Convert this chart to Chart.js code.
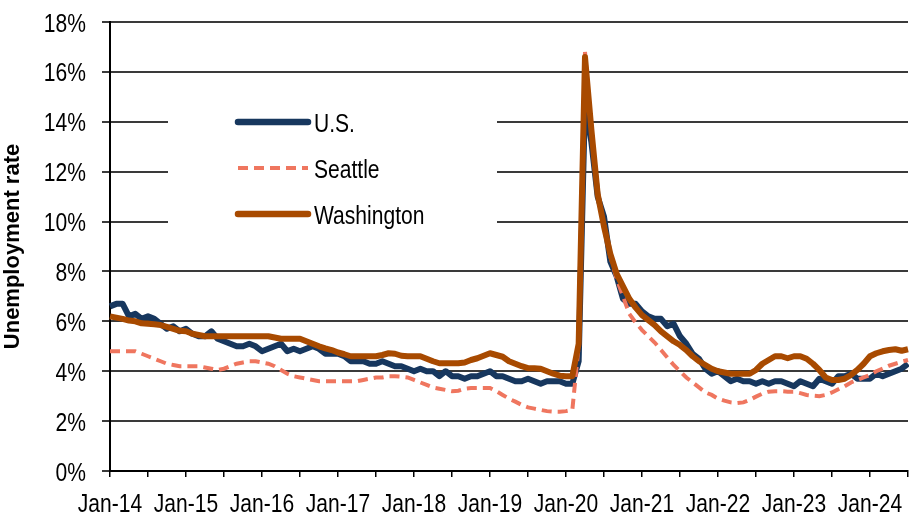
<!DOCTYPE html>
<html>
<head>
<meta charset="utf-8">
<script src="https://cdn.jsdelivr.net/npm/chart.js@4.4.1/dist/chart.umd.min.js"></script>
<style>
  html, body { margin: 0; padding: 0; background: #fff; }
  #wrap { width: 909px; height: 516px; }
</style>
</head>
<body>
<div id="wrap"><canvas id="chart" width="909" height="516"></canvas></div>
<script>
// monthly, Jan-14 .. Jul-24
var monthNames = ['Jan', 'Feb', 'Mar', 'Apr', 'May', 'Jun', 'Jul', 'Aug', 'Sep', 'Oct', 'Nov', 'Dec'];
var years = ['14', '15', '16', '17', '18', '19', '20', '21', '22', '23', '24'];

var usRate = [
  6.6, 6.7, 6.7, 6.2, 6.3, 6.1, 6.2, 6.1, 5.9, 5.7, 5.8, 5.6,
  5.7, 5.5, 5.4, 5.4, 5.6, 5.3, 5.2, 5.1, 5.0, 5.0, 5.1, 5.0,
  4.8, 4.9, 5.0, 5.1, 4.8, 4.9, 4.8, 4.9, 5.0, 4.9, 4.7, 4.7,
  4.7, 4.6, 4.4, 4.4, 4.4, 4.3, 4.3, 4.4, 4.3, 4.2, 4.2, 4.1,
  4.0, 4.1, 4.0, 4.0, 3.8, 4.0, 3.8, 3.8, 3.7, 3.8, 3.8, 3.9,
  4.0, 3.8, 3.8, 3.7, 3.6, 3.6, 3.7, 3.6, 3.5, 3.6, 3.6, 3.6,
  3.5, 3.5, 4.4, 14.8, 13.2, 11.0, 10.2, 8.4, 7.8, 6.9, 6.7, 6.7,
  6.4, 6.2, 6.1, 6.1, 5.8, 5.9, 5.4, 5.1, 4.7, 4.5, 4.1, 3.9,
  4.0, 3.8, 3.6, 3.7, 3.6, 3.6, 3.5, 3.6, 3.5, 3.6, 3.6, 3.5,
  3.4, 3.6, 3.5, 3.4, 3.7, 3.6, 3.5, 3.8, 3.8, 3.9, 3.7, 3.7,
  3.7, 3.9, 3.8, 3.9, 4.0, 4.1, 4.3
];

var seattleRate = [
  4.8, 4.8, 4.8, 4.8, 4.8, 4.7, 4.6, 4.5, 4.4, 4.3, 4.25, 4.2,
  4.2, 4.2, 4.2, 4.15, 4.1, 4.05, 4.1, 4.2, 4.3, 4.35, 4.4, 4.4,
  4.35, 4.3, 4.2, 4.05, 3.9, 3.8, 3.75, 3.7, 3.65, 3.6, 3.6, 3.6,
  3.6, 3.6, 3.6, 3.6, 3.65, 3.7, 3.75, 3.75, 3.8, 3.8, 3.78, 3.75,
  3.65, 3.55, 3.45, 3.35, 3.3, 3.25, 3.2, 3.22, 3.3, 3.33, 3.33, 3.33,
  3.33, 3.2, 3.05, 2.9, 2.78, 2.65, 2.55, 2.5, 2.45, 2.4, 2.38, 2.38,
  2.4, 2.45, 5.0, 16.8, 13.6, 11.2, 9.8, 8.6, 7.7, 7.0, 6.3, 5.95,
  5.65, 5.4, 5.15, 4.85, 4.55, 4.25, 4.0, 3.75, 3.55, 3.35, 3.15, 3.05,
  2.9, 2.82, 2.75, 2.72, 2.75, 2.85, 2.98, 3.1, 3.18, 3.2, 3.2, 3.18,
  3.18, 3.12, 3.05, 3.02, 3.0, 3.05, 3.15, 3.28, 3.4, 3.55, 3.65, 3.75,
  3.85, 4.0, 4.1, 4.22, 4.3, 4.38, 4.45
];

var washingtonRate = [
  6.2, 6.15, 6.1, 6.03, 6.0, 5.92, 5.9, 5.88, 5.85, 5.78, 5.7, 5.62,
  5.6, 5.5, 5.45, 5.4, 5.4, 5.4, 5.4, 5.4, 5.4, 5.4, 5.4, 5.4,
  5.4, 5.4, 5.35, 5.3, 5.3, 5.3, 5.3, 5.2, 5.1, 5.0, 4.92, 4.85,
  4.75, 4.68, 4.6, 4.6, 4.6, 4.6, 4.6, 4.65, 4.72, 4.7, 4.62, 4.6,
  4.6, 4.6, 4.5, 4.4, 4.32, 4.32, 4.32, 4.32, 4.35, 4.45, 4.52, 4.62,
  4.72, 4.65, 4.58, 4.4, 4.3, 4.2, 4.12, 4.12, 4.1, 4.0, 3.9, 3.82,
  3.8, 3.8, 5.1, 16.6, 13.7, 11.1, 9.8, 8.7, 7.9, 7.4, 6.9, 6.55,
  6.25, 6.05, 5.85, 5.6, 5.4, 5.2, 5.05, 4.85, 4.6, 4.4, 4.25, 4.1,
  4.0, 3.95, 3.9, 3.9, 3.9, 3.9, 4.05, 4.3, 4.45, 4.6, 4.6, 4.52,
  4.6, 4.6, 4.5, 4.3, 4.05, 3.75, 3.65, 3.65, 3.7, 3.85, 4.05, 4.3,
  4.6, 4.72, 4.8, 4.85, 4.88, 4.82, 4.88
];

var monthLabels = [];
for (var y = 0; y < years.length; y++) {
  for (var m = 0; m < 12; m++) {
    if (monthLabels.length < usRate.length) monthLabels.push(monthNames[m] + '-' + years[y]);
  }
}

var textFont = '26px "Liberation Sans", Arial, sans-serif';
var squeeze = 0.81; // the original text is a narrow face

// draw a label squeezed sideways
function narrowText(c, txt, x, y, align) {
  c.save();
  c.translate(x, y);
  c.scale(squeeze, 1);
  c.textAlign = align;
  c.textBaseline = 'alphabetic';
  c.fillText(txt, 0, 0);
  c.restore();
}

// legend sits inside the plot on a white patch, tick text drawn narrow
var boxLegend = {
  id: 'boxLegend',
  beforeDatasetsDraw: function (chart) {
    var c = chart.ctx;
    c.save();
    c.fillStyle = '#ffffff';
    c.fillRect(168, 98, 329, 146);
    c.restore();
  },
  afterDatasetsDraw: function (chart) {
    var c = chart.ctx;
    var rows = [122, 168, 214];
    c.save();
    chart.data.datasets.forEach(function (ds, i) {
      c.beginPath();
      c.strokeStyle = ds.borderColor;
      c.lineWidth = ds.borderDash ? 4 : 6.5;
      c.lineCap = ds.borderDash ? 'butt' : 'round';
      c.setLineDash(ds.borderDash || []);
      c.moveTo(238, rows[i]);
      c.lineTo(308, rows[i]);
      c.stroke();
      c.setLineDash([]);
      c.fillStyle = '#000';
      c.font = textFont;
      narrowText(c, ds.label, 314, rows[i] + 9.5, 'left');
    });
    c.restore();
  },
  afterDraw: function (chart) {
    var c = chart.ctx;
    var xs = chart.scales.x, ys = chart.scales.y;
    c.save();
    c.fillStyle = '#000';
    c.font = textFont;
    xs.ticks.forEach(function (t, i) {
      if (t.label) narrowText(c, t.label, xs.getPixelForTick(i), xs.top + 41, 'center');
    });
    ys.ticks.forEach(function (t, i) {
      narrowText(c, t.label, ys.right - 24, ys.getPixelForTick(i) + 9.5, 'right');
    });
    c.restore();
  }
};

var ctx = document.getElementById('chart').getContext('2d');

var myChart = new Chart(ctx, {
  type: 'line',
  data: {
    labels: monthLabels,
    datasets: [{
      label: 'U.S.',
      data: usRate,
      borderColor: '#17375e',
      borderWidth: 6,
      pointRadius: 0,
      borderJoinStyle: 'round',
      order: 3
    }, {
      label: 'Seattle',
      data: seattleRate,
      borderColor: '#ef765f',
      borderWidth: 4,
      borderDash: [10, 6],
      pointRadius: 0,
      order: 2
    }, {
      label: 'Washington',
      data: washingtonRate,
      borderColor: '#a84a00',
      borderWidth: 6,
      pointRadius: 0,
      borderJoinStyle: 'round',
      order: 1
    }]
  },
  options: {
    responsive: false,
    animation: false,
    layout: { padding: { top: 22, right: 1, left: 0, bottom: 0 } },
    plugins: {
      legend: { display: false },
      tooltip: { enabled: false }
    },
    scales: {
      x: {
        type: 'category',
        offset: false,
        afterFit: function (s) {
          s.height = 45;
          s.paddingLeft = 0;
          s.paddingRight = 0;
        },
        grid: {
          drawOnChartArea: false,
          drawTicks: true,
          tickLength: 6,
          color: '#000',
          lineWidth: 1.5
        },
        border: { display: true, color: '#000', width: 2 },
        ticks: {
          autoSkip: false,
          maxRotation: 0,
          minRotation: 0,
          padding: 8,
          color: 'rgba(0,0,0,0)',
          font: { size: 20 },
          callback: function (val, i) {
            if (i % 12 === 0) return monthLabels[i];
            if (i % 6 === 0) return '';
            return null;
          }
        }
      },
      y: {
        min: 0,
        max: 18,
        afterFit: function (s) {
          s.width = 110;
          s.paddingTop = 0;
          s.paddingBottom = 0;
        },
        grid: {
          color: '#3a3a3a',
          lineWidth: 2,
          drawTicks: true,
          tickLength: 8
        },
        border: { display: true, color: '#000', width: 2 },
        ticks: {
          stepSize: 2,
          padding: 16,
          color: 'rgba(0,0,0,0)',
          font: { size: 20 },
          callback: function (v) { return v + '%'; }
        },
        title: {
          display: true,
          text: 'Unemployment rate',
          color: '#000',
          font: { family: '"Liberation Sans", Arial, sans-serif', size: 22, weight: 'bold' },
          padding: { top: 0, bottom: 0 }
        }
      }
    }
  },
  plugins: [boxLegend]
});
</script>
</body>
</html>
